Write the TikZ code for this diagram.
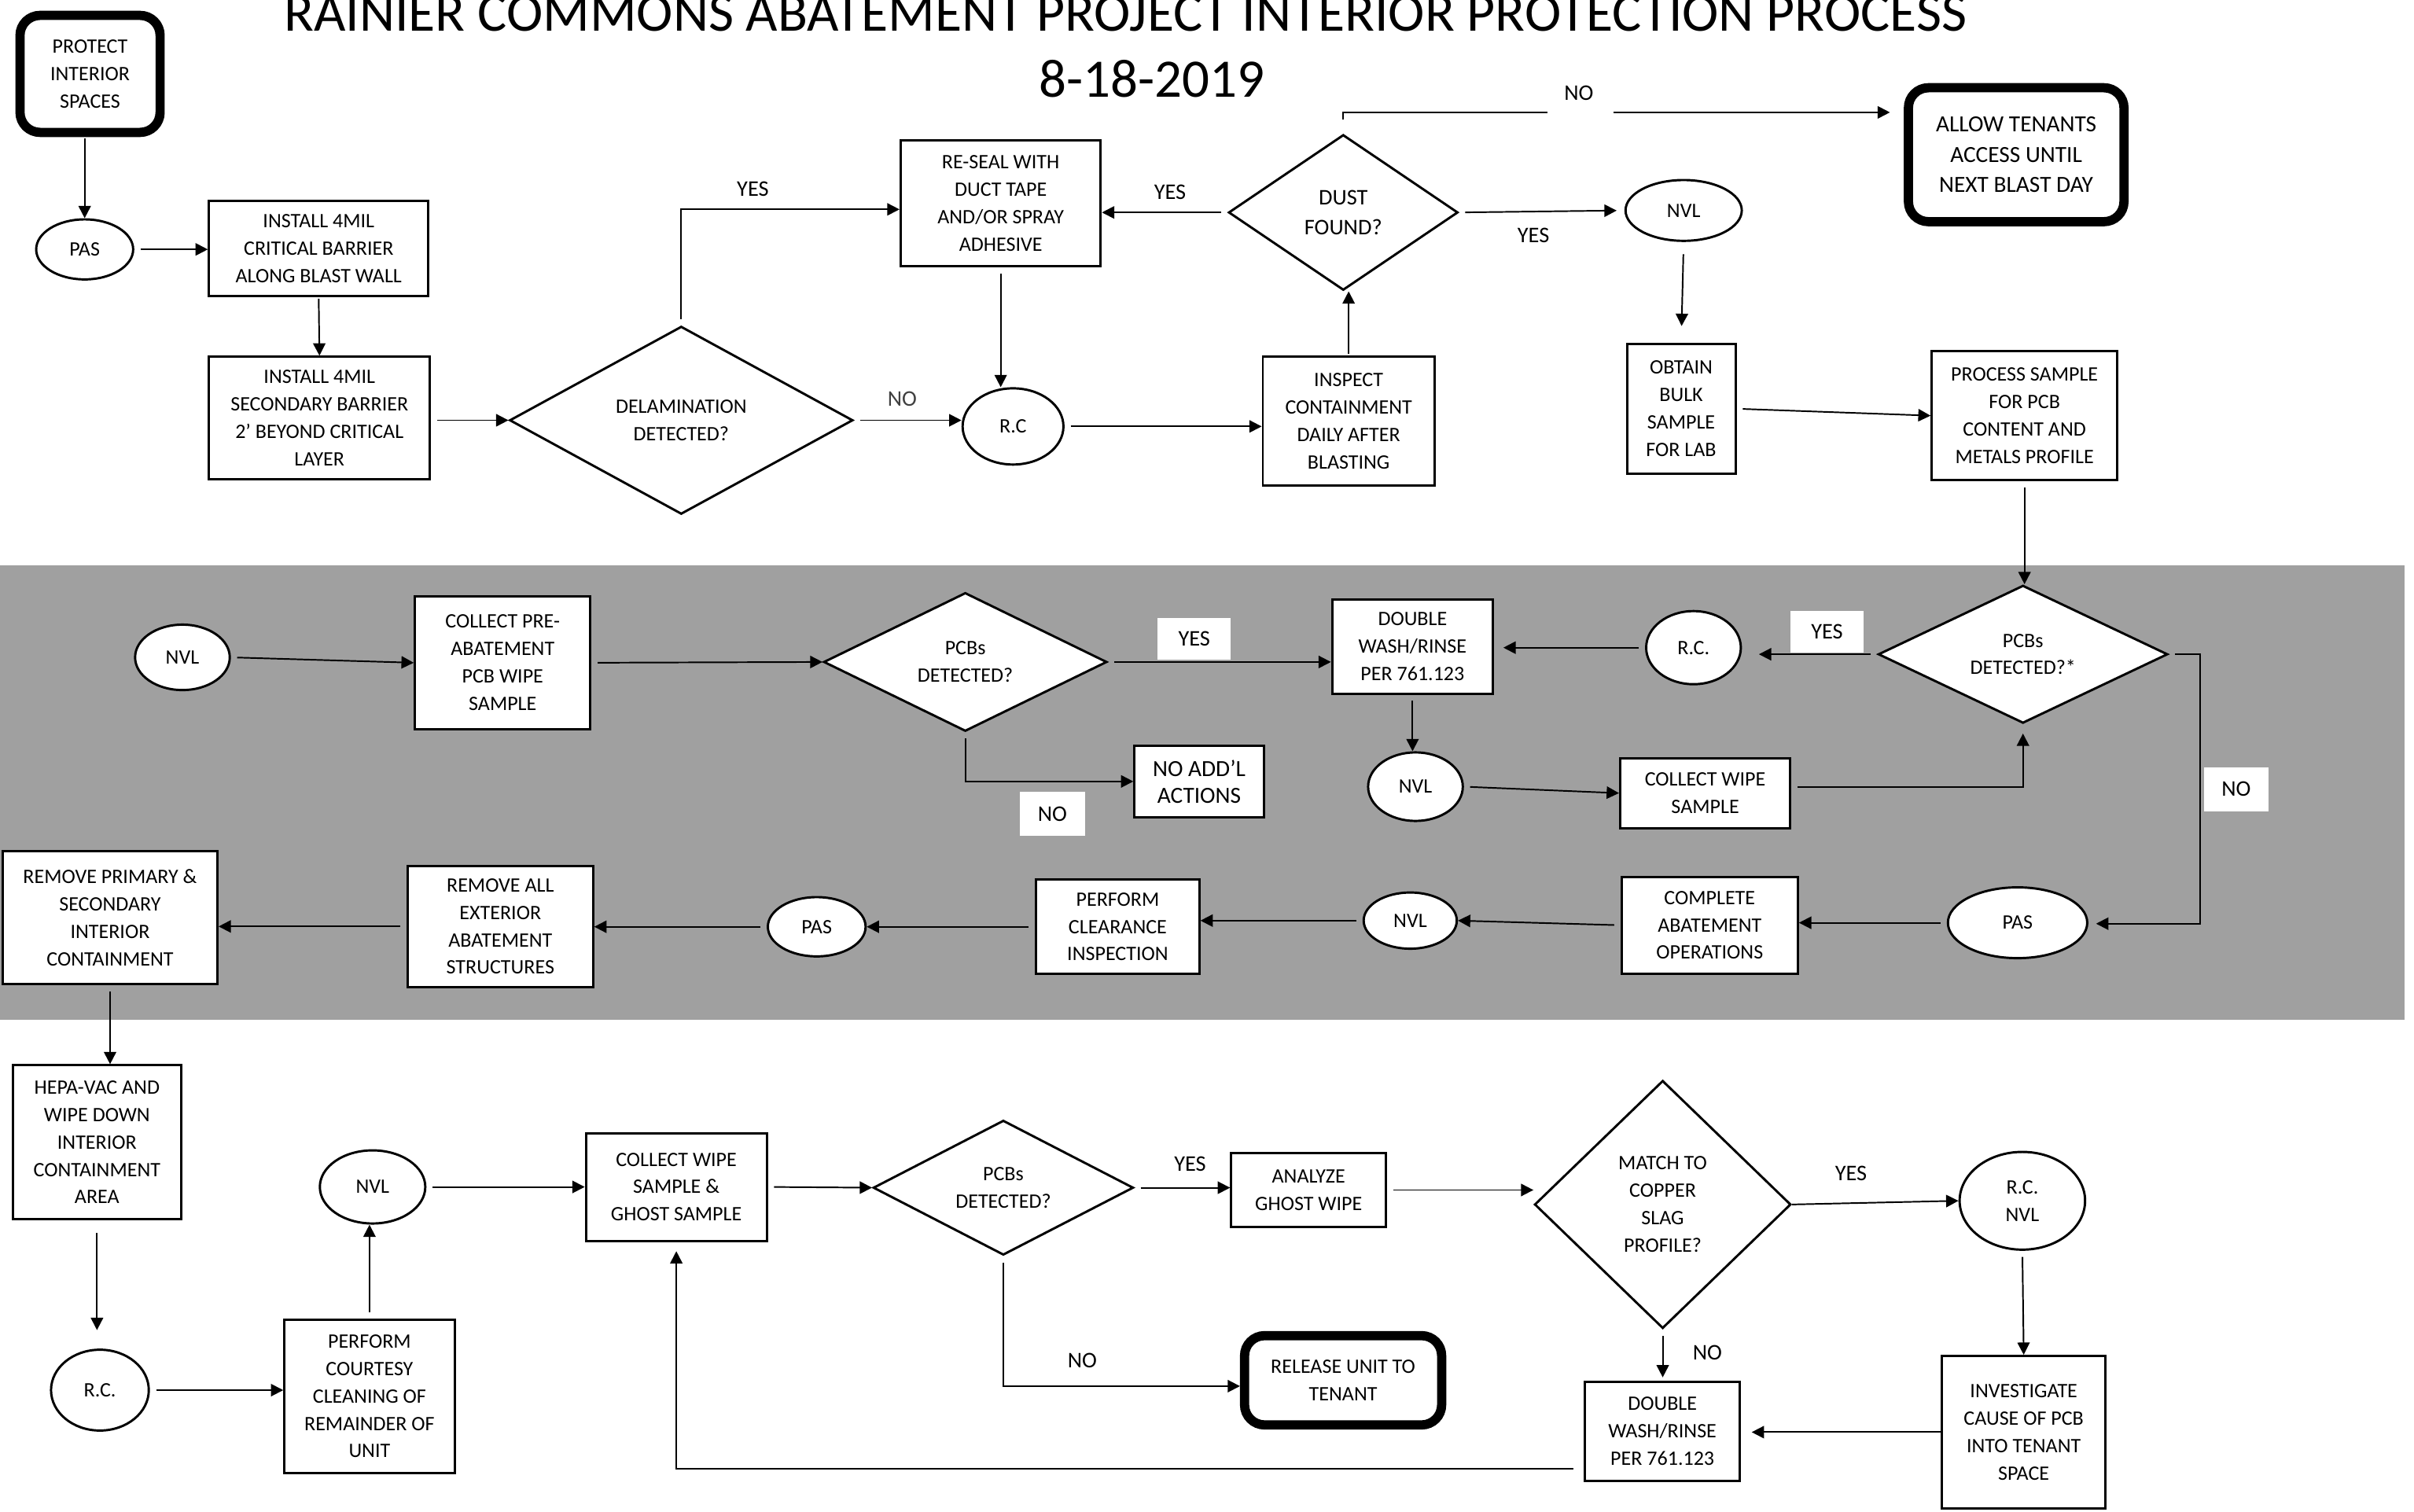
\documentclass[tikz,border=0pt]{standalone}
\usepackage{fontspec}
\setmainfont{Carlito}
\usetikzlibrary{shapes.geometric,arrows.meta}
\definecolor{bandgray}{RGB}{160,160,160}
\newcommand\fBox{\fontsize{13.3}{17.8}\selectfont}
\newcommand\fBig{\fontsize{15}{19.6}\selectfont}
\newcommand\fNoadd{\fontsize{15}{17.4}\selectfont}
\newcommand\fLab{\fontsize{14.5}{19.4}\selectfont}
\newcommand\fTitle{\fontsize{35.2}{42}\selectfont}
\newcommand\fHead{\fontsize{35.65}{42}\selectfont}
\begin{document}
\begin{tikzpicture}[x=1pt,y=-1pt,
  box/.style={draw,line width=1.5pt,fill=white,inner sep=0pt,align=center,font=\fBox},
  term/.style={draw,line width=6pt,rounded corners=13pt,fill=white,inner sep=0pt,align=center,font=\fBox},
  oval/.style={ellipse,draw,line width=1.5pt,fill=white,inner sep=0pt,align=center,font=\fBox},
  dec/.style={diamond,draw,line width=1.5pt,fill=white,inner sep=0pt,align=center,font=\fBox},
  lab/.style={inner sep=0pt,font=\fLab},
  wlab/.style={fill=white,inner sep=0pt,font=\fLab},
  conn/.style={line width=1pt,shorten <=4pt},
  conna/.style={conn,-{Triangle[length=8pt,width=8pt]}},
]
\useasboundingbox (0,0) rectangle (1568,982);
\fill[bandgray] (0,367) rectangle (1562,662.4);

% title
\node[anchor=base,font=\fHead,inner sep=0pt] (title) at (731,20) {RAINIER COMMONS ABATEMENT PROJECT INTERIOR PROTECTION PROCESS};
\node[anchor=base,font=\fTitle,inner sep=0pt] (date) at (748,63) {8-18-2019};

% top row
\node[term,minimum width=91pt,minimum height=76pt] (protect) at (58.5,48) {PROTECT\\INTERIOR\\SPACES};
\node[oval,minimum width=63pt,minimum height=39pt] (pas1) at (55,162) {PAS};
\node[box,minimum width=142.5pt,minimum height=62pt] (inst1) at (207,161.3) {INSTALL 4MIL\\CRITICAL BARRIER\\ALONG BLAST WALL};
\node[box,minimum width=143.5pt,minimum height=79.5pt] (inst2) at (207.5,271.5) {INSTALL 4MIL\\SECONDARY BARRIER\\2’ BEYOND CRITICAL\\LAYER};
\node[dec,shape aspect=1.8,minimum width=223pt,minimum height=122pt] (delam) at (442.5,273) {DELAMINATION\\DETECTED?};
\node[box,minimum width=130pt,minimum height=82pt] (reseal) at (650,132) {RE-SEAL WITH\\DUCT TAPE\\AND/OR SPRAY\\ADHESIVE};
\node[dec,shape aspect=1.5,minimum width=149pt,minimum height=101pt,font=\fLab] (dust) at (872.5,138) {DUST\\FOUND?};
\node[oval,minimum width=65.5pt,minimum height=49.5pt] (rc1) at (658,277) {R.C};
\node[box,minimum width=111.5pt,minimum height=83.5pt] (inspect) at (876,273.5) {INSPECT\\CONTAINMENT\\DAILY AFTER\\BLASTING};
\node[term,font=\fBig,minimum width=140pt,minimum height=87pt] (allow) at (1309.6,100.5) {ALLOW TENANTS\\ACCESS UNTIL\\NEXT BLAST DAY};
\node[oval,minimum width=75.5pt,minimum height=39.5pt] (nvl1) at (1093.6,136.7) {NVL};
\node[box,minimum width=70.5pt,minimum height=84pt] (obtain) at (1092,265.5) {OBTAIN\\BULK\\SAMPLE\\FOR LAB};
\node[box,minimum width=120.5pt,minimum height=83.5pt] (process) at (1315,270) {PROCESS SAMPLE\\FOR PCB\\CONTENT AND\\METALS PROFILE};

% gray band
\node[oval,minimum width=61.5pt,minimum height=42.5pt] (nvl2) at (118.5,427) {NVL};
\node[box,minimum width=114pt,minimum height=86.5pt] (collectpre) at (326.5,430.5) {COLLECT PRE-\\ABATEMENT\\PCB WIPE\\SAMPLE};
\node[dec,shape aspect=2,minimum width=184pt,minimum height=90pt] (pcb1) at (627,430) {PCBs\\DETECTED?};
\node[box,minimum width=104.5pt,minimum height=61pt] (dbl1) at (917.5,420) {DOUBLE\\WASH/RINSE\\PER 761.123};
\node[box,font=\fNoadd,minimum width=84pt,minimum height=46.5pt] (noadd) at (778.9,507.6) {NO ADD’L\\ACTIONS};
\node[oval,minimum width=61.5pt,minimum height=44.5pt] (nvl3) at (919.4,511) {NVL};
\node[box,minimum width=110.5pt,minimum height=45.5pt] (collectw) at (1107.6,515.2) {COLLECT WIPE\\SAMPLE};
\node[dec,shape aspect=2,minimum width=188pt,minimum height=89.5pt] (pcb2) at (1314,425) {PCBs\\DETECTED?*};
\node[oval,minimum width=61.5pt,minimum height=47.5pt] (rc2) at (1100,420.7) {R.C.};
\node[oval,minimum width=90.5pt,minimum height=46pt] (pas2) at (1310.5,599.4) {PAS};
\node[box,minimum width=114.5pt,minimum height=63pt] (complete) at (1110.5,601) {COMPLETE\\ABATEMENT\\OPERATIONS};
\node[oval,minimum width=60.5pt,minimum height=36.5pt] (nvl4) at (916,598) {NVL};
\node[box,minimum width=106pt,minimum height=61pt] (clearance) at (726,602) {PERFORM\\CLEARANCE\\INSPECTION};
\node[oval,minimum width=63.5pt,minimum height=38.5pt] (pas3) at (530.5,602) {PAS};
\node[box,minimum width=120.5pt,minimum height=78.5pt] (removeall) at (325,601.8) {REMOVE ALL\\EXTERIOR\\ABATEMENT\\STRUCTURES};
\node[box,minimum width=139.5pt,minimum height=86.5pt] (removeprim) at (71.5,596) {REMOVE PRIMARY \&\\SECONDARY\\INTERIOR\\CONTAINMENT};

% bottom row
\node[box,minimum width=109pt,minimum height=100pt] (hepa) at (63,742) {HEPA-VAC AND\\WIPE DOWN\\INTERIOR\\CONTAINMENT\\AREA};
\node[oval,minimum width=63.5pt,minimum height=52.5pt] (rc3) at (64.9,903) {R.C.};
\node[box,minimum width=110.5pt,minimum height=99.5pt] (courtesy) at (240,907) {PERFORM\\COURTESY\\CLEANING OF\\REMAINDER OF\\UNIT};
\node[oval,minimum width=68.5pt,minimum height=47.5pt] (nvl5) at (242,771) {NVL};
\node[box,minimum width=117.5pt,minimum height=70pt] (ghost) at (439.3,771) {COLLECT WIPE\\SAMPLE \&\\GHOST SAMPLE};
\node[dec,shape aspect=1.9,minimum width=169pt,minimum height=87.5pt] (pcb3) at (651.7,771.5) {PCBs\\DETECTED?};
\node[box,minimum width=100.5pt,minimum height=48pt] (analyze) at (850,773) {ANALYZE\\GHOST WIPE};
\node[term,minimum width=128pt,minimum height=58pt] (release) at (872.4,896.6) {RELEASE UNIT TO\\TENANT};
\node[dec,shape aspect=1,minimum width=166.5pt,minimum height=161pt] (match) at (1080,782.4) {MATCH TO\\COPPER\\SLAG\\PROFILE?};
\node[oval,minimum width=81.5pt,minimum height=63.5pt] (rcnvl) at (1313.6,780) {R.C.\\NVL};
\node[box,minimum width=106pt,minimum height=99pt] (investigate) at (1314.5,930.3) {INVESTIGATE\\CAUSE OF PCB\\INTO TENANT\\SPACE};
\node[box,minimum width=100.5pt,minimum height=64.5pt] (dbl2) at (1079.8,929.7) {DOUBLE\\WASH/RINSE\\PER 761.123};

% labels
\node[lab] (yes1) at (489,123) {YES};
\node[lab] (yes2) at (760,125) {YES};
\node[lab] (no1) at (1025.5,60.4) {NO};
\node[lab] (yes3) at (996,153) {YES};
\node[lab,text=black!75] (no2) at (586,259) {NO};
\node[wlab,minimum width=47.5pt,minimum height=27pt] (yes4) at (775.7,414.8) {YES};
\node[wlab,minimum width=42.6pt,minimum height=28.4pt] (no3) at (683.6,528.6) {NO};
\node[wlab,minimum width=47.4pt,minimum height=27pt] (yes5) at (1186.7,410.3) {YES};
\node[wlab,minimum width=42pt,minimum height=28.5pt] (no4) at (1452.5,512.7) {NO};
\node[lab] (yes6) at (773,756.3) {YES};
\node[lab] (no5) at (703,884) {NO};
\node[lab] (yes7) at (1202.3,762) {YES};
\node[lab] (no6) at (1109,878.6) {NO};

% connectors top
\draw[conna,shorten <=1pt] (pas1.north |- protect.south) -- (pas1.north);
\draw[conna] (pas1.east) -- (inst1.west |- pas1.east);
\draw[conna,shorten <=1pt] (inst1.south) -- (inst2.north);
\draw[conna] (inst2.east |- delam.west) -- (delam.west);
\draw[conna] (delam.north) |- ([yshift=-4pt]reseal.west);
\draw[conna] (dust.west) -- (reseal.east |- dust.west);
\draw[conna] (reseal.south) -- (reseal.south |- rc1.north);
\draw[conna] (delam.east) -- (rc1.west |- delam.east);
\draw[conna] (rc1.east) -- (inspect.west |- rc1.east);
\draw[conna,shorten <=1pt] (inspect.north) -- (inspect.north |- dust.south);
\coordinate (noA) at (1005,73);
\coordinate (noB) at (1048,73);
\draw[conn,shorten <=9pt] (dust.north) |- (noA);
\draw[conna,shorten <=0pt,shorten >=9pt] (noB) -- (allow.west |- noB);
\draw[conna,shorten >=5pt] (dust.east) -- (nvl1.west);
\draw[conna,shorten <=8pt,shorten >=11pt] (nvl1.south) -- (obtain.north);
\draw[conna] (obtain.east) -- (process.west);
\draw[conna] (process.south) -- (process.south |- pcb2.north);

% connectors gray band
\draw[conna] (nvl2.east) -- (collectpre.west);
\draw[conna] (collectpre.east) -- (pcb1.west);
\draw[conna] (pcb1.east) -- (dbl1.west |- pcb1.east);
\draw[conna] (pcb1.south) |- (noadd.west);
\draw[conna] (dbl1.south) -- (dbl1.south |- nvl3.north);
\draw[conna] (nvl3.east) -- (collectw.west);
\draw[conna,shorten >=6pt] ([yshift=4pt]collectw.east) -| (pcb2.south);
\draw[conna,shorten >=11pt] (pcb2.west) -- (rc2.east |- pcb2.west);
\draw[conna,shorten >=6pt] (rc2.west) -- (dbl1.east |- rc2.west);
\coordinate (nob) at (1429.3,600);
\draw[conna,shorten >=5pt] (pcb2.east) -| (nob) -- (pas2.east |- nob);
\draw[conna] (pas2.west) -- (complete.east |- pas2.west);
\draw[conna] (complete.west) -- (nvl4.east);
\draw[conna] (nvl4.west) -- (clearance.east |- nvl4.west);
\draw[conna] (clearance.west) -- (pas3.east);
\draw[conna] (pas3.west) -- (removeall.east |- pas3.west);
\draw[conna] (removeall.west) -- (removeprim.east |- removeall.west);
\draw[conna] (removeprim.south) -- (removeprim.south |- hepa.north);

% connectors bottom
\draw[conna,shorten <=8pt,shorten >=12pt] (hepa.south) -- (hepa.south |- rc3.north);
\draw[conna] (rc3.east) -- (courtesy.west |- rc3.east);
\draw[conna] (courtesy.north) -- (courtesy.north |- nvl5.south);
\draw[conna] (nvl5.east) -- (ghost.west |- nvl5.east);
\draw[conna] (ghost.east) -- (pcb3.west);
\draw[conna] (pcb3.east) -- (analyze.west |- pcb3.east);
\draw[conna] (pcb3.south) |- ([yshift=-3.8pt]release.west);
\draw[conna] (analyze.east) -- (match.west |- analyze.east);
\draw[conna,shorten <=0pt] (match.east) -- (rcnvl.west);
\draw[conna] (rcnvl.south) -- (investigate.north);
\draw[conna,shorten <=0pt,shorten >=7pt] (investigate.west) -- (dbl2.east |- investigate.west);
\draw[conna,shorten >=2pt] (match.south) -- (match.south |- dbl2.north);
\draw[conna,shorten <=7pt,shorten >=6pt] ([yshift=-24.3pt]dbl2.west) -| (ghost.south);
\end{tikzpicture}
\end{document}
